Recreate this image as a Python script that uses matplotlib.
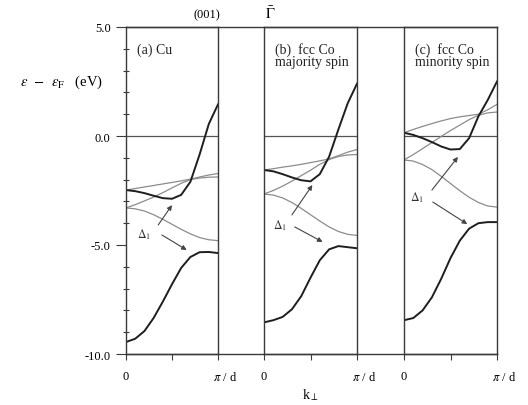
import numpy as np
import matplotlib
matplotlib.use("Agg")
import matplotlib.pyplot as plt
import matplotlib.transforms as mtransforms
from matplotlib.ticker import MultipleLocator

plt.rcParams['font.family'] = ['Liberation Serif', 'DejaVu Serif']
plt.rcParams['mathtext.fontset'] = 'stix'

# k along (001), in units of pi/d
k = [0.0, 0.1, 0.2, 0.3, 0.4, 0.5, 0.6, 0.7, 0.8, 0.9, 1.0]

# (a) Cu
cu_d1 = [-2.48, -2.53, -2.62, -2.74, -2.85, -2.88, -2.70, -2.10, -0.85, 0.55, 1.45]
cu_a = [-2.48, -2.41, -2.34, -2.27, -2.20, -2.13, -2.06, -1.98, -1.88, -1.79, -1.72]
cu_b = [-3.30, -3.15, -2.98, -2.80, -2.60, -2.38, -2.17, -2.00, -1.93, -1.89, -1.88]
cu_c = [-3.30, -3.34, -3.44, -3.61, -3.82, -4.05, -4.28, -4.49, -4.66, -4.76, -4.80]
cu_low = [-9.45, -9.30, -8.95, -8.35, -7.60, -6.80, -6.05, -5.55, -5.33, -5.32, -5.37]

# (b) fcc Co majority spin
maj_d1 = [-1.56, -1.62, -1.75, -1.90, -2.03, -2.08, -1.75, -0.95, 0.30, 1.50, 2.40]
maj_a = [-1.56, -1.50, -1.43, -1.37, -1.30, -1.22, -1.14, -1.05, -0.90, -0.74, -0.62]
maj_b = [-2.66, -2.50, -2.30, -2.07, -1.82, -1.57, -1.30, -1.08, -0.94, -0.87, -0.85]
maj_c = [-2.66, -2.71, -2.84, -3.05, -3.32, -3.61, -3.90, -4.17, -4.38, -4.51, -4.56]
maj_low = [-8.55, -8.45, -8.30, -7.95, -7.35, -6.50, -5.70, -5.20, -5.05, -5.10, -5.15]

# (c) fcc Co minority spin
min_d1 = [0.15, 0.05, -0.10, -0.28, -0.48, -0.62, -0.60, -0.10, 0.90, 1.65, 2.50]
min_a = [0.15, 0.30, 0.44, 0.57, 0.69, 0.80, 0.88, 0.94, 1.00, 1.20, 1.45]
min_b = [-1.10, -0.85, -0.58, -0.30, -0.02, 0.25, 0.50, 0.75, 0.95, 1.06, 1.10]
min_c = [-1.10, -1.15, -1.31, -1.54, -1.85, -2.18, -2.51, -2.81, -3.05, -3.21, -3.26]
min_low = [-8.45, -8.35, -8.00, -7.40, -6.55, -5.60, -4.80, -4.25, -4.00, -3.95, -3.95]

panels = [
    ("(a) Cu", [cu_d1, cu_low], [cu_a, cu_b, cu_c]),
    ("(b)  fcc Co\nmajority spin", [maj_d1, maj_low], [maj_a, maj_b, maj_c]),
    ("(c)  fcc Co\nminority spin", [min_d1, min_low], [min_a, min_b, min_c]),
]

# Delta_1 label and arrows (tail k, tail E, head k, head E)
delta_pos = [(0.20, -4.5), (0.17, -4.05), (0.14, -2.8)]
arrows_up = [(0.35, -4.08, 0.50, -3.17), (0.30, -3.62, 0.52, -2.25), (0.30, -2.48, 0.58, -0.96)]
arrows_dn = [(0.39, -4.54, 0.66, -5.23), (0.33, -4.17, 0.63, -4.86), (0.31, -3.03, 0.68, -4.04)]

W, H = 528, 406
fig = plt.figure(figsize=(W / 100, H / 100), dpi=100)

top, bot = 28, 355
lefts = [126, 264, 404]
widths = [92, 93, 93]
spine_col = '#3a3a3a'

# frame lines running across the gaps
bg = fig.add_axes([126 / W, 1 - bot / H, (497 - 126) / W, (bot - top) / H])
bg.set_xticks([])
bg.set_yticks([])
for s in ['left', 'right']:
    bg.spines[s].set_visible(False)
for s in ['top', 'bottom']:
    bg.spines[s].set_color(spine_col)
    bg.spines[s].set_linewidth(1.0)
bg.patch.set_alpha(0)

for i, (label, dark, light) in enumerate(panels):
    ax = fig.add_axes([lefts[i] / W, 1 - bot / H, widths[i] / W, (bot - top) / H])
    ax.patch.set_alpha(0)
    ax.set_xlim(0, 1)
    ax.set_ylim(-10, 5)
    for s in ax.spines.values():
        s.set_color(spine_col)
        s.set_linewidth(1.0)
    ax.axhline(0, color='#555555', lw=0.9)
    for band in light:
        ax.plot(k, band, color='#8c8c8c', lw=0.9)
    for band in dark:
        ax.plot(k, band, color='#1e1e1e', lw=1.4)

    ax.text(0.12, 4.0 if i == 0 else 3.72, label, fontsize=10, ha='left', va='center',
            linespacing=0.92, color='#222222')

    dx, dy = delta_pos[i]
    ax.text(dx, dy, r'$\Delta_1$', fontsize=8.5, ha='center', va='center', color='#333333')
    for a in (arrows_up[i], arrows_dn[i]):
        ax.annotate('', xy=(a[2], a[3]), xytext=(a[0], a[1]),
                    arrowprops=dict(arrowstyle='-|>', color='#444444', lw=0.8,
                                    mutation_scale=7, shrinkA=0, shrinkB=0))

    ax.set_xticks([0, 0.5, 1])
    ax.set_xticklabels(['0', '', r'$\pi$ / d'], fontsize=9)
    ax.tick_params(axis='x', direction='out', length=4.5, width=0.8, pad=7,
                   color=spine_col, top=False)
    shift = mtransforms.ScaledTranslation(5 / 72, 0, fig.dpi_scale_trans)
    lbl = ax.get_xticklabels()[2]
    lbl.set_transform(lbl.get_transform() + shift)
    if i == 0:
        ax.set_yticks([-10, -5, 0, 5])
        ax.set_yticklabels(['-10.0', '-5.0', '0.0', '5.0'], fontsize=9)
        ax.yaxis.set_minor_locator(MultipleLocator(1))
        ax.tick_params(axis='y', which='major', direction='out', length=7, width=0.8,
                       pad=4, color=spine_col)
        ax.tick_params(axis='y', which='minor', direction='inout', length=4, width=0.8,
                       color=spine_col)
    else:
        ax.set_yticks([])

fig.text(62 / W, 1 - 82 / H, r'$\epsilon$  $-$  $\epsilon_{\rm F}$   (eV)', fontsize=10.5,
         ha='center', va='center')
fig.text(207 / W, 1 - 15 / H, '(001)', fontsize=9, ha='center', va='center')
fig.text(270 / W, 1 - 14 / H, r'$\bar{\Gamma}$', fontsize=10.5, ha='center', va='center')
fig.text(310 / W, 1 - 395 / H, r'k$_\perp$', fontsize=10, ha='center', va='center')

fig.savefig('out.png', dpi=100, facecolor='white')
